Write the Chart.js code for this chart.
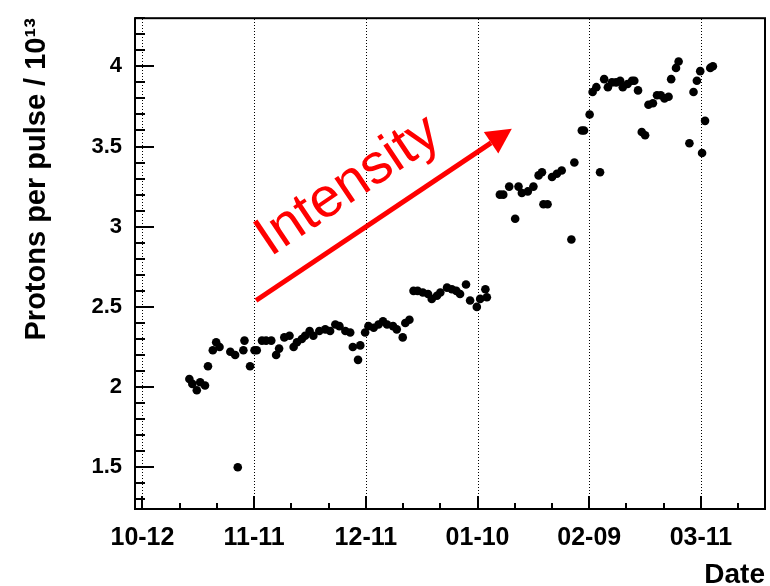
<!DOCTYPE html>
<html>
<head>
<meta charset="utf-8">
<script src="https://cdn.jsdelivr.net/npm/chart.js@4"></script>
<style>
body { margin: 0; background: #fff; }
</style>
</head>
<body>
<canvas id="chart" width="770" height="586"></canvas>
<script>
// x = days after 12 October, y = protons per pulse in units of 1e13
let days = [
    12.6, 13.4, 14.6, 15.5, 16.8, 17.6, 18.9, 19.8, 20.7, 23.6,
    24.9, 25.6, 27.1, 27.4, 28.9, 30.1, 30.7, 32.1, 33.2, 34.6,
    35.9, 36.7, 38.1, 39.5, 40.6, 41.5, 42.8, 43.7, 44.9, 45.9,
    47.5, 49.1, 50.4, 51.8, 52.9, 54.5, 55.8, 56.5, 57.9, 58.5,
    59.8, 60.7, 62.1, 63.4, 64.6, 65.7, 67.3, 68.3, 69.9, 70.6,
    71.7, 72.8, 73.9, 75.3, 76.7, 77.7, 79.1, 80.0, 81.8, 83.1,
    84.3, 85.3, 86.9, 88.0, 89.8, 90.7, 92.1, 92.5, 96.0, 96.9,
    98.5, 100.1, 101.0, 101.9, 103.5, 105.0, 106.4, 107.3, 107.7, 108.8,
    110.0, 111.3, 112.6, 115.2, 116.0, 118.0, 118.6, 120.1, 120.9, 121.9,
    122.9, 124.0, 125.0, 126.1, 127.2, 128.3, 129.0, 130.3, 131.5, 132.1,
    133.1, 134.1, 135.0, 135.9, 137.1, 138.2, 139.2, 140.2, 141.3, 142.0,
    143.3, 144.0, 146.9, 148.0, 148.9, 149.8, 150.3, 151.1, 152.5, 153.2
];
let protons = [
    2.05, 2.02, 1.98, 2.03, 2.01, 2.13, 2.23, 2.28, 2.25, 2.22,
    2.20, 1.50, 2.23, 2.29, 2.13, 2.23, 2.23, 2.29, 2.29, 2.29,
    2.20, 2.24, 2.31, 2.32, 2.25, 2.28, 2.30, 2.32, 2.35, 2.32,
    2.35, 2.36, 2.35, 2.39, 2.38, 2.35, 2.34, 2.25, 2.17, 2.26,
    2.34, 2.38, 2.37, 2.39, 2.41, 2.39, 2.38, 2.36, 2.31, 2.40,
    2.42, 2.60, 2.60, 2.59, 2.58, 2.55, 2.57, 2.59, 2.62, 2.61,
    2.60, 2.58, 2.64, 2.54, 2.50, 2.55, 2.61, 2.56, 3.20, 3.20,
    3.25, 3.05, 3.25, 3.21, 3.22, 3.25, 3.32, 3.34, 3.14, 3.14,
    3.31, 3.33, 3.35, 2.92, 3.40, 3.60, 3.60, 3.70, 3.84, 3.87,
    3.34, 3.92, 3.87, 3.90, 3.90, 3.91, 3.87, 3.89, 3.91, 3.91,
    3.85, 3.59, 3.57, 3.76, 3.77, 3.82, 3.82, 3.80, 3.81, 3.92,
    3.99, 4.03, 3.52, 3.84, 3.91, 3.97, 3.46, 3.66, 3.99, 4.00
];
let xTickLabels = ['10-12', '11-11', '12-11', '01-10', '02-09', '03-11'];

// red annotation arrow, in data units
let arrowFrom = {x: 30.5, y: 2.54};
let arrowTo = {x: 99.2, y: 3.61};
let arrowLabel = 'Intensity';
let arrowLabelAt = {x: 34.3, y: 2.81};

let fontFamily = '"Liberation Sans", Arial, Helvetica, sans-serif';

let near = function (v, step) {
    return Math.abs(v / step - Math.round(v / step)) < 1e-6;
}

let points = [];
for (let i = 0; i < days.length; i++) {
    points.push({x: days[i], y: protons[i]});
}

let rootStyle = {
    id: 'rootStyle',
    beforeDatasetsDraw(chart) {
        let ctx = chart.ctx;
        let a = chart.chartArea;
        let xs = chart.scales.x;
        ctx.save();
        ctx.strokeStyle = '#000';
        ctx.lineWidth = 1;
        ctx.setLineDash([1, 2]);
        xs.ticks.forEach(t => {
            if (t.value >= 0 && near(t.value, 30)) {
                let px = Math.round(xs.getPixelForValue(t.value)) + 0.5;
                ctx.beginPath();
                ctx.moveTo(px, a.bottom);
                ctx.lineTo(px, a.top);
                ctx.stroke();
            }
        });
        ctx.restore();
    },
    afterDraw(chart) {
        let ctx = chart.ctx;
        let a = chart.chartArea;
        let xs = chart.scales.x;
        let ys = chart.scales.y;
        ctx.save();
        ctx.strokeStyle = '#000';
        ctx.lineWidth = 2;

        // ticks pointing inward
        ctx.beginPath();
        xs.ticks.forEach(t => {
            if (!near(t.value, 10)) return;
            let len = near(t.value, 30) ? 13 : 6;
            let px = Math.round(xs.getPixelForValue(t.value));
            ctx.moveTo(px, a.bottom);
            ctx.lineTo(px, a.bottom - len);
        });
        ys.ticks.forEach(t => {
            if (!near(t.value, 0.1)) return;
            let len = near(t.value, 0.5) ? 19 : 10;
            let py = Math.round(ys.getPixelForValue(t.value));
            ctx.moveTo(a.left, py);
            ctx.lineTo(a.left + len, py);
        });
        ctx.stroke();

        ctx.strokeRect(a.left, a.top, a.right - a.left, a.bottom - a.top);

        // arrow
        let x0 = xs.getPixelForValue(arrowFrom.x), y0 = ys.getPixelForValue(arrowFrom.y);
        let x1 = xs.getPixelForValue(arrowTo.x), y1 = ys.getPixelForValue(arrowTo.y);
        let ang = Math.atan2(y1 - y0, x1 - x0);
        let c = Math.cos(ang), s = Math.sin(ang);
        let headLen = 25, headHalf = 13;
        let bx = x1 - headLen * c, by = y1 - headLen * s;
        ctx.strokeStyle = '#ff0000';
        ctx.fillStyle = '#ff0000';
        ctx.lineWidth = 5;
        ctx.beginPath();
        ctx.moveTo(x0, y0);
        ctx.lineTo(bx, by);
        ctx.stroke();
        ctx.beginPath();
        ctx.moveTo(x1, y1);
        ctx.lineTo(bx - headHalf * s, by + headHalf * c);
        ctx.lineTo(bx + headHalf * s, by - headHalf * c);
        ctx.closePath();
        ctx.fill();

        ctx.translate(xs.getPixelForValue(arrowLabelAt.x), ys.getPixelForValue(arrowLabelAt.y));
        ctx.rotate(ang);
        ctx.font = '56px ' + fontFamily;
        ctx.textAlign = 'left';
        ctx.textBaseline = 'alphabetic';
        ctx.fillText(arrowLabel, 0, 0);
        ctx.restore();
    }
};

new Chart(document.getElementById('chart'), {
    type: 'scatter',
    data: {
        datasets: [{
            label: 'Protons per pulse',
            data: points,
            backgroundColor: '#000',
            borderWidth: 0,
            pointRadius: 4.3,
            pointHoverRadius: 4.3
        }]
    },
    options: {
        responsive: false,
        animation: false,
        layout: {padding: {left: 0, top: 9, right: 5, bottom: 0}},
        plugins: {
            legend: {display: false},
            tooltip: {enabled: false}
        },
        scales: {
            x: {
                type: 'linear',
                min: -2,
                max: 167.2,
                grid: {display: false},
                border: {display: false},
                ticks: {
                    stepSize: 10,
                    includeBounds: false,
                    autoSkip: false,
                    maxRotation: 0,
                    minRotation: 0,
                    padding: 6,
                    color: '#000',
                    font: {family: fontFamily, size: 25, weight: 'bold'},
                    callback: v => (v >= 0 && near(v, 30)) ? xTickLabels[Math.round(v / 30)] : ''
                },
                title: {
                    display: true,
                    text: 'Date',
                    align: 'end',
                    color: '#000',
                    font: {family: fontFamily, size: 28, weight: 'bold', lineHeight: 0.8},
                    padding: {top: 0, bottom: 0}
                },
                afterFit: s => { s.height = 77; }
            },
            y: {
                min: 1.24,
                max: 4.3,
                grid: {display: false},
                border: {display: false},
                ticks: {
                    stepSize: 0.1,
                    includeBounds: false,
                    autoSkip: false,
                    padding: 5,
                    color: '#000',
                    font: {family: fontFamily, size: 22, weight: 'bold'},
                    callback: v => near(v, 0.5) ? String(Math.round(v * 2) / 2) : ''
                },
                title: {
                    display: true,
                    text: 'Protons per pulse / 10¹³',
                    align: 'end',
                    color: '#000',
                    font: {family: fontFamily, size: 29, weight: 'bold', lineHeight: 1.2},
                    padding: {top: 20, bottom: 0}
                },
                afterFit: s => { s.width = 135; }
            }
        }
    },
    plugins: [rootStyle]
});
</script>
</body>
</html>
